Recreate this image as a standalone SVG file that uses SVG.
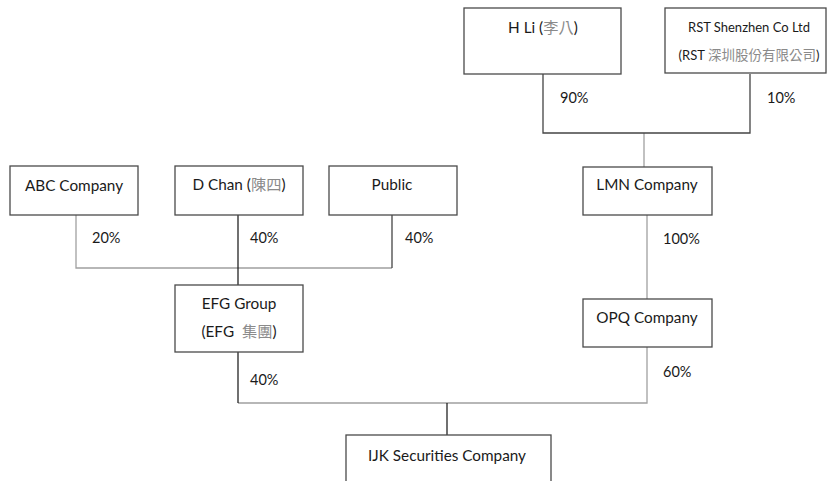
<svg xmlns="http://www.w3.org/2000/svg" width="827" height="481" viewBox="0 0 827 481">
<style>
.box{fill:#fff;stroke:#4a4a4a;stroke-width:1.3}
.t{font-family:Lato,"Noto Sans CJK TC",sans-serif;font-size:15.3px;fill:#1a1a1a;text-anchor:middle}
.s{font-size:13px}
.p{font-family:Lato,sans-serif;font-size:14.5px;fill:#1a1a1a}
.cjk{fill:#8a8a8a;font-family:"Noto Sans CJK TC",sans-serif}
.g{fill:none;stroke:#a0a0a0;stroke-width:1.3}
.k{fill:none;stroke:#111;stroke-width:1.2}
.d{fill:none;stroke:#444;stroke-width:1.3}
</style>
<rect width="827" height="481" fill="#fff"/>
<g id="connectors">
<path class="g" d="M644,133V167"/>
<path class="g" d="M647,215V299"/>
<path class="g" d="M647,347V403H238"/>
<path class="g" d="M76,215V268H392"/>
<path class="d" d="M392,268V215"/>
<path class="d" d="M543,74V133H750V74"/>
<path class="k" d="M238,215V304"/>
<path class="k" d="M238,352V403"/>
<path class="k" d="M447,403V435"/>
</g>
<g id="hli"><rect class="box" x="464" y="8" width="157" height="66"/><text class="t" x="543" y="33">H Li (<tspan class="cjk">李八</tspan>)</text></g>
<g id="rst"><rect class="box" x="665" y="8" width="161" height="65"/><text class="t s" x="749" y="32">RST Shenzhen Co Ltd</text><text class="t s" x="749" y="60">(RST <tspan class="cjk" style="font-size:13.5px">深圳股份有限公司</tspan>)</text></g>
<g id="abc"><rect class="box" x="10" y="166" width="128" height="49"/><text class="t" x="74" y="191">ABC Company</text></g>
<g id="dchan"><rect class="box" x="175" y="166" width="128" height="49"/><text class="t" x="239" y="190">D Chan (<tspan class="cjk">陳四</tspan>)</text></g>
<g id="public"><rect class="box" x="329" y="166" width="128" height="49"/><text class="t" x="392" y="190">Public</text></g>
<g id="lmn"><rect class="box" x="583" y="167" width="129" height="48"/><text class="t" x="647" y="190">LMN Company</text></g>
<g id="efg"><rect class="box" x="175" y="285" width="128" height="67"/><text class="t" x="239" y="309">EFG Group</text><text class="t" x="239" y="337" xml:space="preserve">(EFG  <tspan class="cjk">集團</tspan>)</text></g>
<g id="opq"><rect class="box" x="583" y="299" width="129" height="48"/><text class="t" x="647" y="323">OPQ Company</text></g>
<g id="ijk"><rect class="box" x="346" y="435" width="205" height="60"/><text class="t" x="447" y="461">IJK Securities Company</text></g>
<g id="labels">
<text class="p" x="560" y="103">90%</text>
<text class="p" x="767" y="103">10%</text>
<text class="p" x="92" y="243">20%</text>
<text class="p" x="250" y="243">40%</text>
<text class="p" x="405" y="243">40%</text>
<text class="p" x="663" y="244">100%</text>
<text class="p" x="663" y="377">60%</text>
<text class="p" x="250" y="385">40%</text>
</g>
</svg>
